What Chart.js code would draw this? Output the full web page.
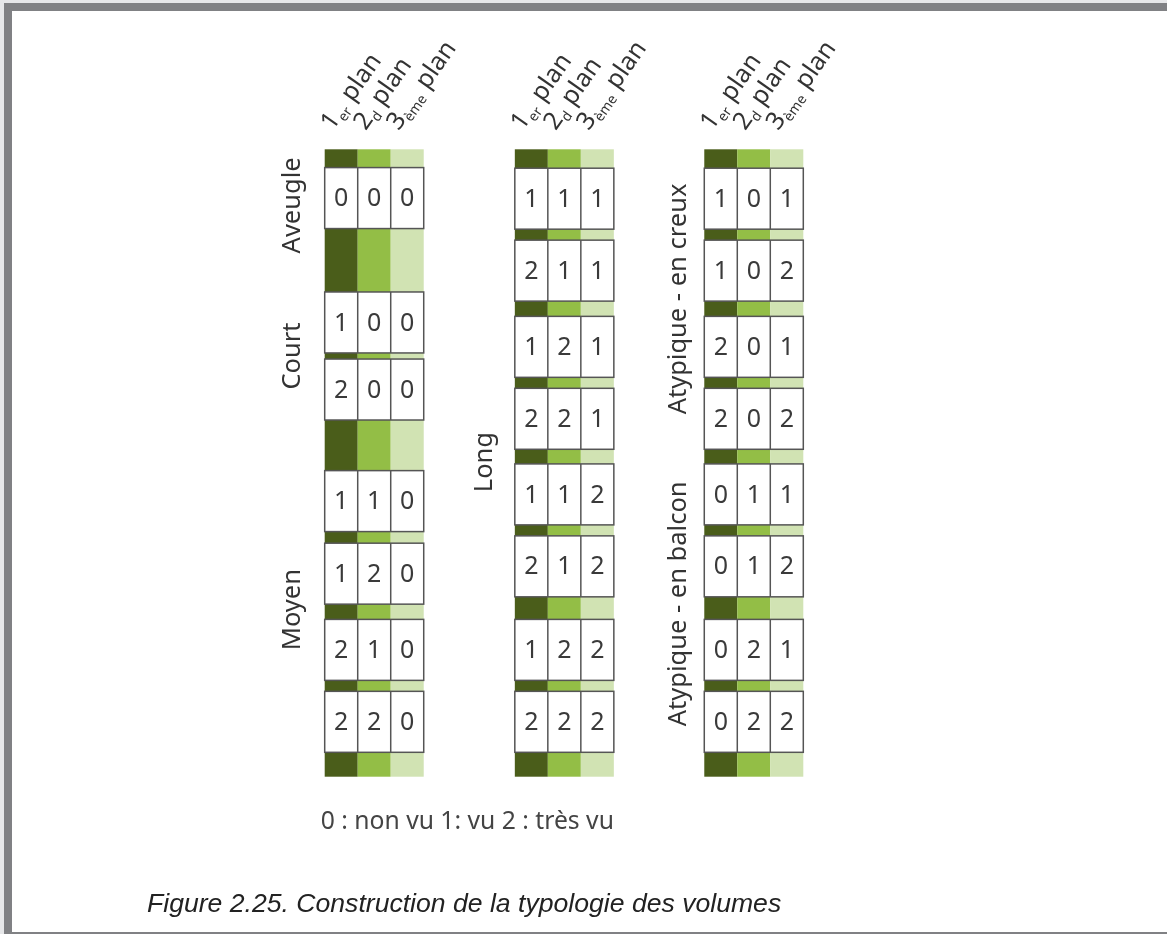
<!DOCTYPE html>
<html>
<head>
<meta charset="utf-8">
<script src="https://cdn.jsdelivr.net/npm/chart.js@4.4.1/dist/chart.umd.min.js"></script>
<style>
    html, body { margin: 0; padding: 0; background: #e6e7e9; }
    #frame { position: absolute; left: 4px; top: 3px; width: 1163px; height: 931px; background: #808184; }
    #sheet { position: absolute; left: 8px; top: 8px; right: 0; bottom: 2px; background: #ffffff; }
    #chart { position: absolute; left: 0; top: 0; }
    #caption {
        position: absolute; left: 147px; top: 888px;
        font: italic 26.6px "Liberation Sans", Arial, sans-serif; color: #222;
    }
</style>
</head>
<body>
<div id="frame"><div id="sheet"></div></div>
<canvas id="chart" width="1167" height="934"></canvas>
<div id="caption">Figure 2.25. Construction de la typologie des volumes</div>
<script>
// Codes read top to bottom in each column (1er plan, 2d plan, 3ème plan)
const codesCourt = ['000', '100', '200', '110', '120', '210', '220'];
const codesLong = ['111', '211', '121', '221', '112', '212', '122', '222'];
const codesAtypique = ['101', '102', '201', '202', '011', '012', '021', '022'];
const planLabels = [['1', 'er'], ['2', 'd'], ['3', 'ème']];
const groupTitles = ['Aveugle', 'Court', 'Moyen', 'Long', 'Atypique - en creux', 'Atypique - en balcon'];
// column index, first row, last row for each group title
const groupColumn = [0, 0, 0, 1, 2, 2];
const groupFirstRow = [0, 1, 3, 0, 0, 4];
const groupLastRow = [0, 2, 6, 7, 3, 7];
const legendText = '0 : non vu 1: vu 2 : très vu';

const planColors = ['#4a5d1a', '#93be46', '#d1e3b3'];

// Layout (x in cell widths, y in box heights)
const columns = [codesCourt, codesLong, codesAtypique];
const colStart = [0, 5.76, 11.5];
const rowTops = [
    [0.30, 2.34, 3.44, 5.27, 6.46, 7.71, 8.89],
    [0.31, 1.49, 2.74, 3.92, 5.16, 6.34, 7.71, 8.89],
    [0.31, 1.49, 2.74, 3.92, 5.16, 6.34, 7.71, 8.89]
];
const titleOffset = [0.74, 0.69, 0.55];
const titleShift = [0.12, 0, -0.03, 0.03, -0.16, -0.07];
const Y_MAX = 10.29;
const X_MAX = 14.5;

const schemaPlugin = {
    id: 'schema',
    afterDraw(chart) {
        const { ctx, scales: { x, y } } = chart;
        const px = (v) => x.getPixelForValue(v);
        const py = (v) => y.getPixelForValue(v);
        ctx.save();

        columns.forEach((codes, c) => {
            // green strips behind the boxes
            for (let k = 0; k < 3; k++) {
                ctx.fillStyle = planColors[k];
                ctx.fillRect(px(colStart[c] + k), py(0), px(colStart[c] + k + 1) - px(colStart[c] + k), py(Y_MAX) - py(0));
            }
            // white boxes with the codes
            codes.forEach((code, r) => {
                const top = py(rowTops[c][r]);
                const bottom = py(rowTops[c][r] + 1);
                const left = px(colStart[c]);
                const right = px(colStart[c] + 3);
                ctx.fillStyle = '#ffffff';
                ctx.fillRect(left, top, right - left, bottom - top);
                ctx.strokeStyle = '#555555';
                ctx.lineWidth = 1.5;
                ctx.strokeRect(left, top, right - left, bottom - top);
                for (let k = 1; k < 3; k++) {
                    ctx.beginPath();
                    ctx.moveTo(px(colStart[c] + k), top);
                    ctx.lineTo(px(colStart[c] + k), bottom);
                    ctx.stroke();
                }
                ctx.fillStyle = '#3a3a3a';
                ctx.font = '25px "Noto Sans", sans-serif';
                ctx.textAlign = 'center';
                ctx.textBaseline = 'middle';
                for (let k = 0; k < 3; k++) {
                    ctx.fillText(code[k], px(colStart[c] + k + 0.5), (top + bottom) / 2 + 1);
                }
            });
            // slanted plan headers
            planLabels.forEach((lab, k) => {
                ctx.save();
                ctx.translate(px(colStart[c] + k) + 8, py(0) - 18);
                ctx.rotate(-55 * Math.PI / 180);
                ctx.fillStyle = '#333333';
                ctx.textAlign = 'left';
                ctx.textBaseline = 'alphabetic';
                ctx.font = '25px "Noto Sans", sans-serif';
                ctx.fillText(lab[0], 0, 0);
                let w = ctx.measureText(lab[0]).width;
                ctx.font = '14px "Noto Sans", sans-serif';
                ctx.fillText(lab[1], w, 5);
                w += ctx.measureText(lab[1]).width + 7;
                ctx.font = '25px "Noto Sans", sans-serif';
                ctx.fillText('plan', w, 0);
                ctx.restore();
            });
        });

        // vertical group titles
        groupTitles.forEach((title, g) => {
            const c = groupColumn[g];
            const mid = (rowTops[c][groupFirstRow[g]] + rowTops[c][groupLastRow[g]] + 1) / 2 + titleShift[g];
            ctx.save();
            ctx.translate(px(colStart[c] - titleOffset[c]), py(mid));
            ctx.rotate(-Math.PI / 2);
            ctx.fillStyle = '#333333';
            ctx.font = '25.5px "Noto Sans", sans-serif';
            ctx.textAlign = 'center';
            ctx.textBaseline = 'alphabetic';
            ctx.fillText(title, 0, 0);
            ctx.restore();
        });

        // legend line under the diagram
        ctx.fillStyle = '#444444';
        ctx.font = '24.7px "Noto Sans", sans-serif';
        ctx.textAlign = 'left';
        ctx.textBaseline = 'alphabetic';
        ctx.fillText(legendText, px(0) - 4, py(Y_MAX) + 52);
        ctx.restore();
    }
};

new Chart(document.getElementById('chart'), {
    type: 'scatter',
    data: { datasets: [] },
    options: {
        responsive: false,
        animation: false,
        layout: { padding: { left: 324.7, right: 363.7, top: 149.3, bottom: 157.3 } },
        scales: {
            x: { type: 'linear', min: 0, max: X_MAX, display: false },
            y: { type: 'linear', min: 0, max: Y_MAX, reverse: true, display: false }
        },
        plugins: { legend: { display: false }, tooltip: { enabled: false } }
    },
    plugins: [schemaPlugin]
});
</script>
</body>
</html>
